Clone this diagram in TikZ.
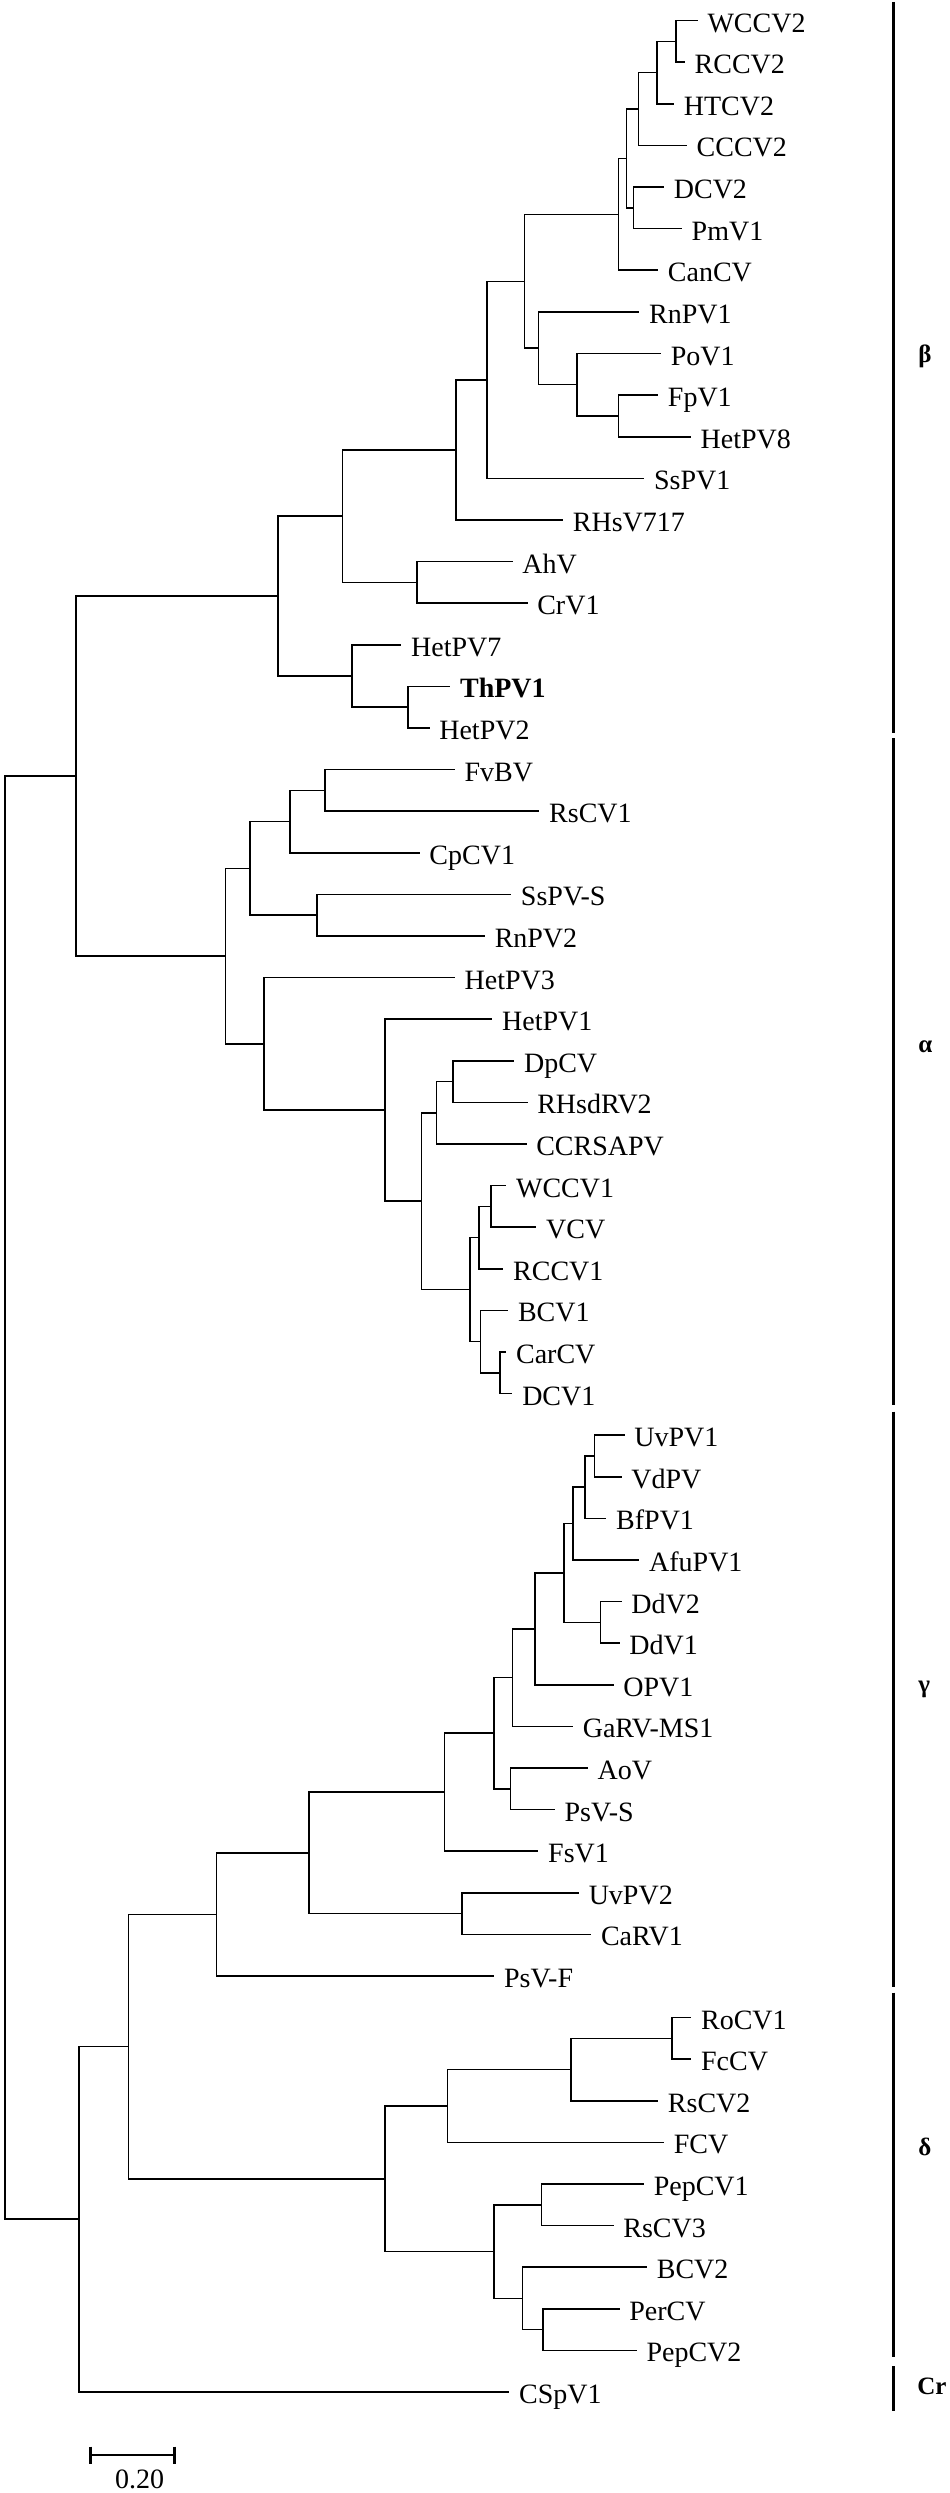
\documentclass[tikz,border=0pt]{standalone}
\usepackage{fontspec}
\setmainfont{Liberation Serif}
\usepackage{tikz}
\usetikzlibrary{arrows}

\begin{document}
\begin{tikzpicture}[x=0.49485pt,y=-0.5pt,line width=0.8pt,
every edge/.style={draw,to path={|- (\tikztotarget)}}]
\tikzstyle{leaf}=[anchor=west,inner xsep=4.5pt,inner ysep=0pt,text height=11.5pt,text depth=0pt,font=\fontsize{14}{16}\selectfont]
\tikzstyle{clade}=[line width=1.5pt]
\tikzstyle{cladename}=[anchor=base west,inner sep=0pt,font=\fontsize{12.5}{15}\selectfont\bfseries]
\tikzstyle{scalebar}=[line width=1.4pt]
\useasboundingbox (0,0) rectangle (959.9,2493);
% beta
\node[leaf] (WCCV2)   at (705,20.7)  {WCCV2};
\node[leaf] (RCCV2)   at (692,62.3)  {RCCV2};
\node[leaf] (HTCV2)   at (681,103.9) {HTCV2};
\node[leaf] (CCCV2)   at (694,145.5) {CCCV2};
\node[leaf] (DCV2)    at (671,187.1) {DCV2};
\node[leaf] (PmV1)    at (689,228.7) {PmV1};
\node[leaf] (CanCV)   at (665,270.3) {CanCV};
\node[leaf] (RnPV1)   at (646,311.9) {RnPV1};
\node[leaf] (PoV1)    at (668,353.5) {PoV1};
\node[leaf] (FpV1)    at (665,395.1) {FpV1};
\node[leaf] (HetPV8)  at (698,436.7) {HetPV8};
\node[leaf] (SsPV1)   at (651,478.3) {SsPV1};
\node[leaf] (RHsV717) at (569,519.9) {RHsV717};
\node[leaf] (AhV)     at (518,561.5) {AhV};
\node[leaf] (CrV1)    at (533,603.1) {CrV1};
\node[leaf] (HetPV7)  at (405.6,644.7) {HetPV7};
\node[leaf] (ThPV1)   at (455,686.3) {\textbf{ThPV1}};
\node[leaf] (HetPV2)  at (434,727.9) {HetPV2};
% alpha
\node[leaf] (FvBV)    at (459.6,769.5) {FvBV};
\node[leaf] (RsCV1)   at (545,811.1)  {RsCV1};
\node[leaf] (CpCV1)   at (424,852.7)  {CpCV1};
\node[leaf] (SsPVS)   at (516.5,894.3) {SsPV-S};
\node[leaf] (RnPV2)   at (490,935.9)  {RnPV2};
\node[leaf] (HetPV3)  at (459.6,977.5) {HetPV3};
\node[leaf] (HetPV1)  at (497.5,1019.1) {HetPV1};
\node[leaf] (DpCV)    at (519.6,1060.7) {DpCV};
\node[leaf] (RHsdRV2) at (533,1102.3) {RHsdRV2};
\node[leaf] (CCRSAPV) at (532,1143.9) {CCRSAPV};
\node[leaf] (WCCV1)   at (511.6,1185.5) {WCCV1};
\node[leaf] (VCV)     at (542,1227.1) {VCV};
\node[leaf] (RCCV1)   at (508.6,1268.7) {RCCV1};
\node[leaf] (BCV1)    at (513.5,1310.3) {BCV1};
\node[leaf] (CarCV)   at (511.6,1351.9) {CarCV};
\node[leaf] (DCV1)    at (517.8,1393.5) {DCV1};
% gamma
\node[leaf] (UvPV1)   at (631,1435.1) {UvPV1};
\node[leaf] (VdPV)    at (628,1476.7) {VdPV};
\node[leaf] (BfPV1)   at (612.7,1518.3) {BfPV1};
\node[leaf] (AfuPV1)  at (646,1559.9) {AfuPV1};
\node[leaf] (DdV2)    at (628,1601.5) {DdV2};
\node[leaf] (DdV1)    at (626,1643.1) {DdV1};
\node[leaf] (OPV1)    at (620,1684.7) {OPV1};
\node[leaf] (GaRVMS1) at (579,1726.3) {GaRV-MS1};
\node[leaf] (AoV)     at (594,1767.9) {AoV};
\node[leaf] (PsVS)    at (560.6,1809.5) {PsV-S};
\node[leaf] (FsV1)    at (544,1851.1) {FsV1};
\node[leaf] (UvPV2)   at (585,1892.7) {UvPV2};
\node[leaf] (CaRV1)   at (597.4,1934.3) {CaRV1};
\node[leaf] (PsVF)    at (499.4,1975.9) {PsV-F};
% delta
\node[leaf] (RoCV1)   at (698.5,2017.5) {RoCV1};
\node[leaf] (FcCV)    at (698.5,2059.1) {FcCV};
\node[leaf] (RsCV2)   at (665,2100.7) {RsCV2};
\node[leaf] (FCV)     at (671,2142.3) {FCV};
\node[leaf] (PepCV1)  at (650.7,2183.9) {PepCV1};
\node[leaf] (RsCV3)   at (620,2225.5) {RsCV3};
\node[leaf] (BCV2)    at (653.8,2267.1) {BCV2};
\node[leaf] (PerCV)   at (626,2308.7) {PerCV};
\node[leaf] (PepCV2)  at (643.4,2350.3) {PepCV2};
% Cr
\node[leaf] (CSpV1)   at (514.7,2391.9) {CSpV1};

% inner nodes
\coordinate (b1)  at (683,41.5);
\coordinate (b2)  at (664,72.7);
\coordinate (b3)  at (645,109.1);
\coordinate (b4)  at (640,207.9);
\coordinate (b5)  at (633,158.5);
\coordinate (b6)  at (625,214.4);
\coordinate (b7)  at (625,415.9);
\coordinate (b8)  at (583,384.7);
\coordinate (b9)  at (544,348.3);
\coordinate (b10) at (530,281.35);
\coordinate (b11) at (492,379.8);
\coordinate (b12) at (461,449.9);
\coordinate (b13) at (421.6,582.3);
\coordinate (b14) at (346,516.1);
\coordinate (b15) at (412,707.1);
\coordinate (b16) at (355.4,675.9);
\coordinate (b17) at (280.6,596);
\coordinate (a1)  at (328.4,790.3);
\coordinate (a2)  at (293,821.5);
\coordinate (a3)  at (320.5,915.1);
\coordinate (a4)  at (252.5,868.3);
\coordinate (a5)  at (458,1081.5);
\coordinate (a6)  at (441,1112.7);
\coordinate (a7)  at (496,1206.3);
\coordinate (a8)  at (484,1237.5);
\coordinate (a9)  at (505.5,1372.7);
\coordinate (a10) at (485.3,1341.5);
\coordinate (a11) at (475,1289.5);
\coordinate (a12) at (426,1201.1);
\coordinate (a13) at (389,1110.1);
\coordinate (a14) at (266.5,1043.8);
\coordinate (a15) at (228,956.05);
\coordinate (g1)  at (600.5,1455.9);
\coordinate (g2)  at (591,1487.1);
\coordinate (g3)  at (579,1523.5);
\coordinate (g4)  at (606.6,1622.3);
\coordinate (g5)  at (570,1572.9);
\coordinate (g6)  at (540.4,1628.8);
\coordinate (g7)  at (517.8,1677.55);
\coordinate (g8)  at (516,1788.7);
\coordinate (g9)  at (499.4,1733.1);
\coordinate (g10) at (449,1792.1);
\coordinate (g11) at (467,1913.5);
\coordinate (g12) at (312.5,1852.8);
\coordinate (g13) at (218.8,1914.35);
\coordinate (d1)  at (679,2038.3);
\coordinate (d2)  at (577,2069.5);
\coordinate (d3)  at (452,2105.9);
\coordinate (d4)  at (547,2204.7);
\coordinate (d5)  at (548.4,2329.5);
\coordinate (d6)  at (528,2298.3);
\coordinate (d7)  at (499.4,2251.5);
\coordinate (d8)  at (389,2178.7);
\coordinate (r1)  at (76.6,776);
\coordinate (r2)  at (130,2046.5);
\coordinate (r3)  at (79.7,2219.2);
\coordinate (root) at (4.9,1497.6);

\path (b1)  edge (WCCV2) edge (RCCV2)
      (b2)  edge (b1) edge (HTCV2)
      (b3)  edge (b2) edge (CCCV2)
      (b4)  edge (DCV2) edge (PmV1)
      (b5)  edge (b3) edge (b4)
      (b6)  edge (b5) edge (CanCV)
      (b7)  edge (FpV1) edge (HetPV8)
      (b8)  edge (PoV1) edge (b7)
      (b9)  edge (RnPV1) edge (b8)
      (b10) edge (b6) edge (b9)
      (b11) edge (b10) edge (SsPV1)
      (b12) edge (b11) edge (RHsV717)
      (b13) edge (AhV) edge (CrV1)
      (b14) edge (b12) edge (b13)
      (b15) edge (ThPV1) edge (HetPV2)
      (b16) edge (HetPV7) edge (b15)
      (b17) edge (b14) edge (b16)
      (a1)  edge (FvBV) edge (RsCV1)
      (a2)  edge (a1) edge (CpCV1)
      (a3)  edge (SsPVS) edge (RnPV2)
      (a4)  edge (a2) edge (a3)
      (a5)  edge (DpCV) edge (RHsdRV2)
      (a6)  edge (a5) edge (CCRSAPV)
      (a7)  edge (WCCV1) edge (VCV)
      (a8)  edge (a7) edge (RCCV1)
      (a9)  edge (CarCV) edge (DCV1)
      (a10) edge (BCV1) edge (a9)
      (a11) edge (a8) edge (a10)
      (a12) edge (a6) edge (a11)
      (a13) edge (HetPV1) edge (a12)
      (a14) edge (HetPV3) edge (a13)
      (a15) edge (a4) edge (a14)
      (r1)  edge (b17) edge (a15)
      (g1)  edge (UvPV1) edge (VdPV)
      (g2)  edge (g1) edge (BfPV1)
      (g3)  edge (g2) edge (AfuPV1)
      (g4)  edge (DdV2) edge (DdV1)
      (g5)  edge (g3) edge (g4)
      (g6)  edge (g5) edge (OPV1)
      (g7)  edge (g6) edge (GaRVMS1)
      (g8)  edge (AoV) edge (PsVS)
      (g9)  edge (g7) edge (g8)
      (g10) edge (g9) edge (FsV1)
      (g11) edge (UvPV2) edge (CaRV1)
      (g12) edge (g10) edge (g11)
      (g13) edge (g12) edge (PsVF)
      (d1)  edge (RoCV1) edge (FcCV)
      (d2)  edge (d1) edge (RsCV2)
      (d3)  edge (d2) edge (FCV)
      (d4)  edge (PepCV1) edge (RsCV3)
      (d5)  edge (PerCV) edge (PepCV2)
      (d6)  edge (BCV2) edge (d5)
      (d7)  edge (d4) edge (d6)
      (d8)  edge (d3) edge (d7)
      (r2)  edge (g13) edge (d8)
      (r3)  edge (r2) edge (CSpV1)
      (root) edge (r1) edge (r3);

% clade bars
\coordinate (betaT)  at (902.6,2);
\coordinate (betaB)  at (902.6,732.7);
\coordinate (alphaT) at (902.6,738);
\coordinate (alphaB) at (902.6,1405);
\coordinate (gammaT) at (902.6,1411.7);
\coordinate (gammaB) at (902.6,1986.7);
\coordinate (deltaT) at (902.6,1992.7);
\coordinate (deltaB) at (902.6,2357);
\coordinate (crT)    at (902.6,2366);
\coordinate (crB)    at (902.6,2410.5);
\draw[clade] (betaT) -- (betaB);
\draw[clade] (alphaT) -- (alphaB);
\draw[clade] (gammaT) -- (gammaB);
\draw[clade] (deltaT) -- (deltaB);
\draw[clade] (crT) -- (crB);
\node[cladename] (beta)  at (927,363)  {β};
\node[cladename] (alpha) at (927,1052) {α};
\node[cladename] (gamma) at (927,1692) {γ};
\node[cladename] (delta) at (927,2155) {δ};
\node[cladename] (cr)    at (926,2394) {Cr};

% scale
\coordinate (sbL) at (91.6,2455);
\coordinate (sbR) at (176.1,2455);
\draw[scalebar] (sbL) -- (sbR);
\draw[scalebar] (sbL) ++(0,-8.5) -- ++(0,17);
\draw[scalebar] (sbR) ++(0,-8.5) -- ++(0,17);
\node[leaf,anchor=center,inner sep=0pt] (sblabel) at (141.2,2476.5) {0.20};
\end{tikzpicture}
\end{document}
